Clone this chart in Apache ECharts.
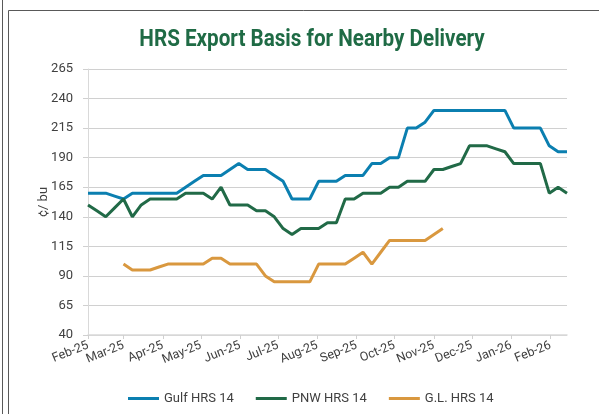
<!DOCTYPE html>
<html>
<head>
<meta charset="utf-8">
<script src="https://cdn.jsdelivr.net/npm/echarts@6/dist/echarts.min.js"></script>
<style>
  html, body { margin: 0; padding: 0; background: #fff; }
  #chart { width: 599px; height: 414px; }
</style>
</head>
<body>
<div id="chart"></div>
<script>
// weekly basis quotes, cents per bushel, first week = start of Feb-25
const weekStep = 7 // days between quotes

const gulf = [160, 160, 160, 157.5, 155, 160, 160, 160, 160, 160,
  160, 165, 170, 175, 175, 175, 180, 185, 180, 180,
  180, 175, 170, 155, 155, 155, 170, 170, 170, 175,
  175, 175, 185, 185, 190, 190, 215, 215, 220, 230,
  230, 230, 230, 230, 230, 230, 230, 230, 215, 215,
  215, 215, 200, 195, 195]

const pnw = [150, 145, 140, 147.5, 155, 140, 150, 155, 155, 155,
  155, 160, 160, 160, 155, 165, 150, 150, 150, 145,
  145, 140, 130, 125, 130, 130, 130, 135, 135, 155,
  155, 160, 160, 160, 165, 165, 170, 170, 170, 180,
  180, 182.5, 185, 200, 200, 200, 197.5, 195, 185, 185,
  185, 185, 160, 165, 160]

const greatLakes = [null, null, null, null, 100, 95, 95, 95, 97.5, 100,
  100, 100, 100, 100, 105, 105, 100, 100, 100, 100,
  90, 85, 85, 85, 85, 85, 100, 100, 100, 100,
  105, 110, 100, 110, 120, 120, 120, 120, 120, 125,
  130]

// month ticks, in days from the first week
const tickDays = [0, 28, 59, 89, 120, 150, 181, 212, 242, 273, 303, 334, 365]
const tickLabels = ['Feb-25', 'Mar-25', 'Apr-25', 'May-25', 'Jun-25', 'Jul-25', 'Aug-25',
  'Sep-25', 'Oct-25', 'Nov-25', 'Dec-25', 'Jan-26', 'Feb-26']
const lastDay = 378

const yMin = 40
const yMax = 265
const yStep = 25

const toPoints = (vals) => vals
  .map((v, i) => [i * weekStep, v])
  .filter(p => p[1] != null)

const labelColor = '#404040'
const gridColor = '#d0d0d0'

const chart = echarts.init(document.getElementById('chart'))

chart.setOption({
  animation: false,
  backgroundColor: '#fff',
  textStyle: { fontFamily: 'Roboto, sans-serif' },
  grid: { left: 88, right: 32, top: 69, bottom: 79, outerBoundsMode: 'none' },
  graphic: [
    { type: 'line', shape: { x1: 2.5, y1: 0, x2: 2.5, y2: 414 }, style: { stroke: '#595959', lineWidth: 1 } },
    { type: 'line', shape: { x1: 8.5, y1: 10.5, x2: 8.5, y2: 414 }, style: { stroke: '#595959', lineWidth: 1 } },
    { type: 'line', shape: { x1: 8.5, y1: 10.5, x2: 599, y2: 10.5 }, style: { stroke: '#595959', lineWidth: 1 } },
    {
      type: 'text', x: 312, y: 40, scaleX: 0.86,
      style: {
        text: 'HRS Export Basis for Nearby Delivery',
        font: 'bold 24px Roboto',
        fill: '#1f6b45',
        align: 'center',
        verticalAlign: 'middle'
      }
    }
  ],
  legend: {
    left: 123,
    top: 387,
    icon: 'rect',
    itemWidth: 31,
    itemHeight: 3,
    itemGap: 22,
    textStyle: { fontSize: 13, color: labelColor }
  },
  xAxis: {
    type: 'value',
    min: 0,
    max: lastDay,
    axisLine: { show: true, lineStyle: { color: '#d9d9d9', width: 1.5 } },
    axisTick: { show: true, customValues: tickDays, length: 4, lineStyle: { color: '#d0d0d0' } },
    axisLabel: {
      customValues: tickDays,
      formatter: (v) => tickLabels[tickDays.indexOf(v)],
      rotate: 22,
      margin: 10,
      fontSize: 12.5,
      color: labelColor
    },
    splitLine: { show: false }
  },
  yAxis: {
    type: 'value',
    min: yMin,
    max: yMax,
    interval: yStep,
    name: '¢/ bu',
    nameLocation: 'middle',
    nameGap: 38,
    nameMoveOverlap: false,
    nameTextStyle: { fontSize: 13, color: labelColor },
    axisLine: { show: true, lineStyle: { color: '#d9d9d9' } },
    axisTick: { show: true, length: 5, lineStyle: { color: '#d0d0d0' } },
    axisLabel: { fontSize: 13, color: labelColor, margin: 15 },
    splitLine: { lineStyle: { color: gridColor, width: 1 } }
  },
  series: [
    { name: 'Gulf HRS 14', data: toPoints(gulf), color: '#0b7fb0' },
    { name: 'PNW HRS 14', data: toPoints(pnw), color: '#216a47' },
    { name: 'G.L. HRS 14', data: toPoints(greatLakes), color: '#d9983f' }
  ].map(s => ({
    type: 'line',
    name: s.name,
    data: s.data,
    showSymbol: false,
    itemStyle: { color: s.color },
    lineStyle: { color: s.color, width: 3 }
  }))
})
</script>
</body>
</html>
